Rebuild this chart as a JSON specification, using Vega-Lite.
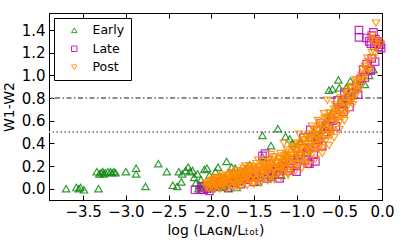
{
  "$schema": "https://vega.github.io/schema/vega-lite/v6.json",
  "autosize": {"type": "none"},
  "width": 333,
  "height": 187,
  "padding": {"left": 49, "top": 13, "right": 25, "bottom": 44},
  "background": "white",
  "config": {
    "view": {"stroke": "black", "strokeWidth": 1},
    "font": "DejaVu Sans",
    "axis": {"grid": false, "domainColor": "black", "tickColor": "black", "labelColor": "black", "titleColor": "black", "labelFont": "DejaVu Sans", "titleFont": "DejaVu Sans", "labelFontSize": 15, "titleFontSize": 14, "titleFontWeight": "normal", "tickSize": -5, "labelPadding": 9, "labelFlush": false, "labelOverlap": false}
  },
  "resolve": {"axis": {"x": "independent", "y": "independent"}},
  "layer": [
    {
      "data": {"values": [{"level": 0.8}]},
      "mark": {"type": "rule", "color": "#8c8c8c", "strokeWidth": 1.8, "strokeDash": [5, 2.5, 1.5, 2.5]},
      "encoding": {"y": {"field": "level", "type": "quantitative", "scale": {"domain": [-0.1, 1.55], "nice": false, "zero": false}, "axis": {"orient": "left", "values": [0, 0.2, 0.4, 0.6, 0.8, 1.0, 1.2, 1.4], "format": ".1f", "title": "W1-W2", "titlePadding": 5}}}
    },
    {
      "data": {"values": [{"level": 0.5}]},
      "mark": {"type": "rule", "color": "#8c8c8c", "strokeWidth": 1.8, "strokeDash": [1.5, 2.5]},
      "encoding": {"y": {"field": "level", "type": "quantitative", "axis": null}}
    },
    {
      "data": {"values": [{"x": -1, "y": 0.5}]},
      "mark": {"type": "point", "opacity": 0},
      "encoding": {
        "x": {"field": "x", "type": "quantitative", "axis": {"orient": "top", "values": [-3.5, -3, -2.5, -2, -1.5, -1, -0.5, 0], "labels": false, "title": null}},
        "y": {"field": "y", "type": "quantitative", "axis": {"orient": "right", "values": [0, 0.2, 0.4, 0.6, 0.8, 1.0, 1.2, 1.4], "labels": false, "title": null}}
      }
    },
    {
      "data": {"values": [
        {"series":"Early","x":-3.70,"y":0.00},{"series":"Early","x":-3.58,"y":0.01},{"series":"Early","x":-3.55,"y":0.00},{"series":"Early","x":-3.53,"y":0.01},{"series":"Early","x":-3.49,"y":-0.01},{"series":"Early","x":-3.32,"y":0.00},
        {"series":"Early","x":-3.34,"y":0.15},{"series":"Early","x":-3.31,"y":0.13},{"series":"Early","x":-3.29,"y":0.14},{"series":"Early","x":-3.27,"y":0.15},{"series":"Early","x":-3.26,"y":0.13},{"series":"Early","x":-3.24,"y":0.14},{"series":"Early","x":-3.21,"y":0.15},{"series":"Early","x":-3.18,"y":0.15},{"series":"Early","x":-3.16,"y":0.14},{"series":"Early","x":-3.14,"y":0.15},{"series":"Early","x":-3.12,"y":0.14},{"series":"Early","x":-3.00,"y":0.15},{"series":"Early","x":-2.88,"y":0.18},{"series":"Early","x":-2.88,"y":0.13},{"series":"Early","x":-2.77,"y":0.02},{"series":"Early","x":-2.62,"y":0.22},{"series":"Early","x":-2.52,"y":0.15},
        {"series":"Early","x":-2.45,"y":0.03},{"series":"Early","x":-2.40,"y":0.02},{"series":"Early","x":-2.38,"y":0.15},{"series":"Early","x":-2.35,"y":0.06},{"series":"Early","x":-2.34,"y":0.13},{"series":"Early","x":-2.30,"y":0.16},{"series":"Early","x":-2.27,"y":0.19},{"series":"Early","x":-2.25,"y":0.15},{"series":"Early","x":-2.22,"y":0.16},{"series":"Early","x":-2.20,"y":0.10},{"series":"Early","x":-2.18,"y":0.05},{"series":"Early","x":-2.16,"y":0.13},{"series":"Early","x":-2.14,"y":0.03},{"series":"Early","x":-2.12,"y":0.08},{"series":"Early","x":-2.10,"y":0.01},{"series":"Early","x":-2.08,"y":0.17},{"series":"Early","x":-2.05,"y":0.18},{"series":"Early","x":-2.02,"y":0.12},{"series":"Early","x":-2.00,"y":0.05},{"series":"Early","x":-1.95,"y":0.15},{"series":"Early","x":-1.92,"y":0.19},{"series":"Early","x":-1.88,"y":0.10},{"series":"Early","x":-1.85,"y":0.02},{"series":"Early","x":-1.82,"y":0.24},{"series":"Early","x":-1.80,"y":0.14},{"series":"Early","x":-1.76,"y":0.19},{"series":"Early","x":-1.72,"y":0.18},{"series":"Early","x":-1.68,"y":0.06},{"series":"Early","x":-1.65,"y":0.12},{"series":"Early","x":-1.60,"y":0.17},{"series":"Early","x":-1.55,"y":0.21},{"series":"Early","x":-1.50,"y":0.10},{"series":"Early","x":-1.45,"y":0.06},{"series":"Early","x":-1.40,"y":0.28},{"series":"Early","x":-1.40,"y":0.47},{"series":"Early","x":-1.30,"y":0.38},{"series":"Early","x":-1.28,"y":0.16},{"series":"Early","x":-1.22,"y":0.53},{"series":"Early","x":-1.20,"y":0.22},{"series":"Early","x":-1.13,"y":0.46},{"series":"Early","x":-1.12,"y":0.30},{"series":"Early","x":-1.08,"y":0.44},{"series":"Early","x":-1.05,"y":0.40},{"series":"Early","x":-1.00,"y":0.35},{"series":"Early","x":-0.95,"y":0.42},{"series":"Early","x":-0.90,"y":0.32},{"series":"Early","x":-0.85,"y":0.45},{"series":"Early","x":-0.80,"y":0.50},{"series":"Early","x":-0.74,"y":0.46},{"series":"Early","x":-0.70,"y":0.52},{"series":"Early","x":-0.65,"y":0.60},{"series":"Early","x":-0.62,"y":0.87},{"series":"Early","x":-0.58,"y":0.88},{"series":"Early","x":-0.55,"y":0.71},{"series":"Early","x":-0.51,"y":0.96},{"series":"Early","x":-0.50,"y":0.89},{"series":"Early","x":-0.48,"y":0.78},{"series":"Early","x":-0.42,"y":0.89},{"series":"Early","x":-0.40,"y":0.83},{"series":"Early","x":-0.37,"y":0.95},{"series":"Early","x":-0.30,"y":0.88},{"series":"Early","x":-0.25,"y":0.95},{"series":"Early","x":-0.20,"y":0.92},{"series":"Early","x":-0.15,"y":1.00},{"series":"Early","x":-0.10,"y":1.05},
        {"series":"Early","x":-1.95,"y":0.03},{"series":"Early","x":-1.85,"y":0.05},{"series":"Early","x":-1.75,"y":0.07},{"series":"Early","x":-1.62,"y":0.09},{"series":"Early","x":-1.52,"y":0.12},{"series":"Early","x":-1.35,"y":0.14},{"series":"Early","x":-1.25,"y":0.17},{"series":"Early","x":-1.15,"y":0.25},{"series":"Early","x":-1.00,"y":0.28},{"series":"Early","x":-0.88,"y":0.37},{"series":"Early","x":-0.78,"y":0.45},{"series":"Early","x":-0.68,"y":0.55},{"series":"Early","x":-0.60,"y":0.65},{"series":"Early","x":-0.45,"y":0.75},{"series":"Early","x":-0.35,"y":0.82},
        {"series":"Early","x":-2.15,"y":0.00},{"series":"Early","x":-2.10,"y":0.04},{"series":"Early","x":-2.05,"y":0.02},{"series":"Early","x":-2.00,"y":0.00},{"series":"Early","x":-1.98,"y":0.08},{"series":"Early","x":-1.90,"y":0.01},{"series":"Early","x":-1.80,"y":0.00},{"series":"Early","x":-1.70,"y":0.01},{"series":"Early","x":-1.30,"y":0.10},{"series":"Early","x":-1.18,"y":0.12},
        {"series":"Late","x":-2.19,"y":-0.01},{"series":"Late","x":-2.09,"y":-0.01},{"series":"Late","x":-2.10,"y":0.02},{"series":"Late","x":-2.05,"y":0.00},{"series":"Late","x":-2.00,"y":0.03},{"series":"Late","x":-1.95,"y":0.06},{"series":"Late","x":-1.90,"y":0.03},{"series":"Late","x":-1.85,"y":0.07},{"series":"Late","x":-1.80,"y":0.01},{"series":"Late","x":-1.75,"y":0.05},{"series":"Late","x":-1.70,"y":0.09},{"series":"Late","x":-1.65,"y":0.04},{"series":"Late","x":-1.60,"y":0.08},{"series":"Late","x":-1.55,"y":0.12},{"series":"Late","x":-1.50,"y":0.06},{"series":"Late","x":-1.45,"y":0.10},{"series":"Late","x":-1.40,"y":0.15},{"series":"Late","x":-1.35,"y":0.09},{"series":"Late","x":-1.32,"y":0.22},{"series":"Late","x":-1.30,"y":0.12},{"series":"Late","x":-1.25,"y":0.18},{"series":"Late","x":-1.20,"y":0.13},{"series":"Late","x":-1.15,"y":0.20},{"series":"Late","x":-1.10,"y":0.16},{"series":"Late","x":-1.05,"y":0.25},{"series":"Late","x":-1.00,"y":0.20},{"series":"Late","x":-0.95,"y":0.30},{"series":"Late","x":-0.92,"y":0.45},{"series":"Late","x":-0.90,"y":0.25},{"series":"Late","x":-0.85,"y":0.36},{"series":"Late","x":-0.80,"y":0.30},{"series":"Late","x":-0.75,"y":0.43},{"series":"Late","x":-0.72,"y":0.58},{"series":"Late","x":-0.70,"y":0.38},{"series":"Late","x":-0.65,"y":0.50},{"series":"Late","x":-0.62,"y":0.55},{"series":"Late","x":-0.60,"y":0.62},{"series":"Late","x":-0.54,"y":0.55},{"series":"Late","x":-0.50,"y":0.70},{"series":"Late","x":-0.47,"y":0.75},{"series":"Late","x":-0.45,"y":0.68},{"series":"Late","x":-0.40,"y":0.80},{"series":"Late","x":-0.38,"y":0.72},{"series":"Late","x":-0.35,"y":0.85},{"series":"Late","x":-0.30,"y":0.90},{"series":"Late","x":-0.28,"y":0.83},{"series":"Late","x":-0.25,"y":0.97},{"series":"Late","x":-0.22,"y":1.05},{"series":"Late","x":-0.20,"y":0.98},{"series":"Late","x":-0.18,"y":1.10},{"series":"Late","x":-0.15,"y":1.05},{"series":"Late","x":-0.13,"y":1.04},{"series":"Late","x":-0.12,"y":1.15},{"series":"Late","x":-0.08,"y":1.12},{"series":"Late","x":-0.27,"y":1.40},{"series":"Late","x":-0.27,"y":1.335},{"series":"Late","x":-0.18,"y":1.33},{"series":"Late","x":-0.15,"y":1.30},{"series":"Late","x":-0.12,"y":1.35},{"series":"Late","x":-0.10,"y":1.38},{"series":"Late","x":-0.08,"y":1.32},{"series":"Late","x":-0.06,"y":1.28},{"series":"Late","x":-0.04,"y":1.25},{"series":"Late","x":-0.02,"y":1.27},{"series":"Late","x":-0.01,"y":1.24},{"series":"Late","x":-0.09,"y":1.26},{"series":"Late","x":-0.13,"y":1.28},{"series":"Late","x":-0.05,"y":1.30},
        {"series":"Late","x":-1.97,"y":0.02},{"series":"Late","x":-1.88,"y":0.04},{"series":"Late","x":-1.78,"y":0.06},{"series":"Late","x":-1.68,"y":0.07},{"series":"Late","x":-1.58,"y":0.10},{"series":"Late","x":-1.48,"y":0.12},{"series":"Late","x":-1.38,"y":0.13},{"series":"Late","x":-1.28,"y":0.15},{"series":"Late","x":-1.18,"y":0.18},{"series":"Late","x":-1.08,"y":0.22},{"series":"Late","x":-0.98,"y":0.26},{"series":"Late","x":-0.88,"y":0.32},{"series":"Late","x":-0.78,"y":0.40},{"series":"Late","x":-0.68,"y":0.48},{"series":"Late","x":-0.58,"y":0.60},{"series":"Late","x":-0.52,"y":0.78},{"series":"Late","x":-0.66,"y":0.56},{"series":"Late","x":-0.84,"y":0.52},{"series":"Late","x":-0.44,"y":0.85},
        {"series":"Late","x":-2.12,"y":-0.01},{"series":"Late","x":-2.02,"y":-0.02},{"series":"Late","x":-1.20,"y":0.09},{"series":"Late","x":-1.00,"y":0.15},{"series":"Late","x":-0.85,"y":0.22},{"series":"Late","x":-0.78,"y":0.24},{"series":"Late","x":-1.40,"y":0.29},{"series":"Late","x":-1.37,"y":0.31},{"series":"Late","x":-1.34,"y":0.12},{"series":"Late","x":-1.07,"y":0.18},{"series":"Late","x":-0.87,"y":0.22},
        {"series":"Post","x":-2.05,"y":0.03},{"series":"Post","x":-2.02,"y":0.06},{"series":"Post","x":-2.00,"y":0.01},{"series":"Post","x":-1.98,"y":0.08},{"series":"Post","x":-1.96,"y":0.04},{"series":"Post","x":-1.94,"y":0.02},{"series":"Post","x":-1.92,"y":0.07},{"series":"Post","x":-1.90,"y":0.05},{"series":"Post","x":-1.88,"y":0.09},{"series":"Post","x":-1.86,"y":0.03},{"series":"Post","x":-1.84,"y":0.06},{"series":"Post","x":-1.82,"y":0.10},{"series":"Post","x":-1.80,"y":0.04},{"series":"Post","x":-1.78,"y":0.08},{"series":"Post","x":-1.76,"y":0.12},{"series":"Post","x":-1.74,"y":0.06},{"series":"Post","x":-1.72,"y":0.10},{"series":"Post","x":-1.70,"y":0.03},{"series":"Post","x":-1.68,"y":0.13},{"series":"Post","x":-1.66,"y":0.08},{"series":"Post","x":-1.64,"y":0.11},{"series":"Post","x":-1.62,"y":0.05},{"series":"Post","x":-1.60,"y":0.15},{"series":"Post","x":-1.58,"y":0.09},{"series":"Post","x":-1.56,"y":0.12},{"series":"Post","x":-1.54,"y":0.07},{"series":"Post","x":-1.52,"y":0.17},{"series":"Post","x":-1.50,"y":0.11},{"series":"Post","x":-1.48,"y":0.14},{"series":"Post","x":-1.46,"y":0.08},{"series":"Post","x":-1.44,"y":0.19},{"series":"Post","x":-1.42,"y":0.13},{"series":"Post","x":-1.40,"y":0.16},{"series":"Post","x":-1.38,"y":0.10},{"series":"Post","x":-1.36,"y":0.21},{"series":"Post","x":-1.34,"y":0.15},{"series":"Post","x":-1.32,"y":0.18},{"series":"Post","x":-1.30,"y":0.12},{"series":"Post","x":-1.28,"y":0.23},{"series":"Post","x":-1.26,"y":0.17},{"series":"Post","x":-1.24,"y":0.20},{"series":"Post","x":-1.22,"y":0.14},{"series":"Post","x":-1.20,"y":0.26},{"series":"Post","x":-1.18,"y":0.19},{"series":"Post","x":-1.16,"y":0.23},{"series":"Post","x":-1.14,"y":0.17},{"series":"Post","x":-1.12,"y":0.30},{"series":"Post","x":-1.10,"y":0.22},{"series":"Post","x":-1.08,"y":0.27},{"series":"Post","x":-1.06,"y":0.19},{"series":"Post","x":-1.04,"y":0.35},{"series":"Post","x":-1.02,"y":0.25},{"series":"Post","x":-1.00,"y":0.30},{"series":"Post","x":-0.98,"y":0.22},{"series":"Post","x":-0.96,"y":0.40},{"series":"Post","x":-0.94,"y":0.29},{"series":"Post","x":-0.92,"y":0.35},{"series":"Post","x":-0.90,"y":0.26},{"series":"Post","x":-0.88,"y":0.45},{"series":"Post","x":-0.86,"y":0.33},{"series":"Post","x":-0.84,"y":0.40},{"series":"Post","x":-0.82,"y":0.30},{"series":"Post","x":-0.80,"y":0.52},{"series":"Post","x":-0.78,"y":0.38},{"series":"Post","x":-0.76,"y":0.45},{"series":"Post","x":-0.74,"y":0.35},{"series":"Post","x":-0.72,"y":0.58},{"series":"Post","x":-0.70,"y":0.44},{"series":"Post","x":-0.68,"y":0.52},{"series":"Post","x":-0.66,"y":0.42},{"series":"Post","x":-0.64,"y":0.63},{"series":"Post","x":-0.62,"y":0.50},{"series":"Post","x":-0.60,"y":0.58},{"series":"Post","x":-0.58,"y":0.52},{"series":"Post","x":-0.56,"y":0.70},{"series":"Post","x":-0.54,"y":0.60},{"series":"Post","x":-0.52,"y":0.65},{"series":"Post","x":-0.50,"y":0.58},{"series":"Post","x":-0.48,"y":0.78},{"series":"Post","x":-0.46,"y":0.66},{"series":"Post","x":-0.44,"y":0.72},{"series":"Post","x":-0.42,"y":0.66},{"series":"Post","x":-0.40,"y":0.85},{"series":"Post","x":-0.38,"y":0.76},{"series":"Post","x":-0.36,"y":0.80},{"series":"Post","x":-0.34,"y":0.74},{"series":"Post","x":-0.32,"y":0.90},{"series":"Post","x":-0.30,"y":0.83},{"series":"Post","x":-0.28,"y":0.95},{"series":"Post","x":-0.26,"y":0.88},{"series":"Post","x":-0.24,"y":1.00},{"series":"Post","x":-0.22,"y":0.95},{"series":"Post","x":-0.20,"y":1.08},{"series":"Post","x":-0.18,"y":1.02},{"series":"Post","x":-0.16,"y":1.12},{"series":"Post","x":-0.14,"y":1.05},{"series":"Post","x":-0.12,"y":1.20},{"series":"Post","x":-0.10,"y":1.15},{"series":"Post","x":-0.08,"y":1.28},{"series":"Post","x":-0.06,"y":1.25},{"series":"Post","x":-0.04,"y":1.30},{"series":"Post","x":-0.07,"y":1.46},{"series":"Post","x":-0.13,"y":1.32},{"series":"Post","x":-0.11,"y":1.35},{"series":"Post","x":-0.02,"y":1.27},
        {"series":"Post","x":-0.64,"y":0.78},{"series":"Post","x":-0.97,"y":0.48},{"series":"Post","x":-0.82,"y":0.55},{"series":"Post","x":-0.75,"y":0.60},{"series":"Post","x":-0.68,"y":0.66},{"series":"Post","x":-1.15,"y":0.40},{"series":"Post","x":-1.30,"y":0.30},{"series":"Post","x":-1.45,"y":0.25},{"series":"Post","x":-1.60,"y":0.20},{"series":"Post","x":-1.90,"y":0.00},{"series":"Post","x":-1.70,"y":0.02},{"series":"Post","x":-1.50,"y":0.05},{"series":"Post","x":-1.30,"y":0.08},{"series":"Post","x":-1.10,"y":0.14},{"series":"Post","x":-0.90,"y":0.22},{"series":"Post","x":-0.70,"y":0.36},{"series":"Post","x":-0.60,"y":0.47},
        {"series":"Post","x":-2.06,"y":0.01},{"series":"Post","x":-2.06,"y":0.05},{"series":"Post","x":-2.03,"y":0.04},{"series":"Post","x":-2.03,"y":0.00},{"series":"Post","x":-1.99,"y":0.03},{"series":"Post","x":-1.99,"y":0.07},{"series":"Post","x":-1.97,"y":0.06},{"series":"Post","x":-1.97,"y":0.01},{"series":"Post","x":-1.93,"y":0.04},{"series":"Post","x":-1.93,"y":0.09},{"series":"Post","x":-1.91,"y":0.02},{"series":"Post","x":-1.91,"y":0.07},{"series":"Post","x":-1.87,"y":0.05},{"series":"Post","x":-1.87,"y":0.10},{"series":"Post","x":-1.85,"y":0.08},{"series":"Post","x":-1.85,"y":0.02},{"series":"Post","x":-1.81,"y":0.06},{"series":"Post","x":-1.81,"y":0.11},{"series":"Post","x":-1.79,"y":0.03},{"series":"Post","x":-1.79,"y":0.09},{"series":"Post","x":-1.75,"y":0.07},{"series":"Post","x":-1.75,"y":0.13},{"series":"Post","x":-1.73,"y":0.04},{"series":"Post","x":-1.73,"y":0.11},{"series":"Post","x":-1.69,"y":0.08},{"series":"Post","x":-1.69,"y":0.14},{"series":"Post","x":-1.67,"y":0.05},{"series":"Post","x":-1.67,"y":0.12},{"series":"Post","x":-1.63,"y":0.09},{"series":"Post","x":-1.63,"y":0.15},{"series":"Post","x":-1.61,"y":0.06},{"series":"Post","x":-1.61,"y":0.13},{"series":"Post","x":-1.57,"y":0.10},{"series":"Post","x":-1.57,"y":0.17},{"series":"Post","x":-1.55,"y":0.07},{"series":"Post","x":-1.55,"y":0.14},{"series":"Post","x":-1.51,"y":0.12},{"series":"Post","x":-1.51,"y":0.18},{"series":"Post","x":-1.49,"y":0.08},{"series":"Post","x":-1.49,"y":0.15},{"series":"Post","x":-1.45,"y":0.13},{"series":"Post","x":-1.45,"y":0.19},{"series":"Post","x":-1.43,"y":0.09},{"series":"Post","x":-1.43,"y":0.17},{"series":"Post","x":-1.39,"y":0.14},{"series":"Post","x":-1.39,"y":0.21},{"series":"Post","x":-1.37,"y":0.11},{"series":"Post","x":-1.37,"y":0.18},{"series":"Post","x":-1.33,"y":0.16},{"series":"Post","x":-1.33,"y":0.23},{"series":"Post","x":-1.31,"y":0.12},{"series":"Post","x":-1.31,"y":0.20},{"series":"Post","x":-1.27,"y":0.18},{"series":"Post","x":-1.27,"y":0.25},{"series":"Post","x":-1.25,"y":0.14},{"series":"Post","x":-1.25,"y":0.22},{"series":"Post","x":-1.21,"y":0.19},{"series":"Post","x":-1.21,"y":0.27},{"series":"Post","x":-1.19,"y":0.15},{"series":"Post","x":-1.19,"y":0.24},{"series":"Post","x":-1.15,"y":0.21},{"series":"Post","x":-1.15,"y":0.29},{"series":"Post","x":-1.13,"y":0.17},{"series":"Post","x":-1.13,"y":0.26},{"series":"Post","x":-1.09,"y":0.24},{"series":"Post","x":-1.09,"y":0.32},{"series":"Post","x":-1.07,"y":0.20},{"series":"Post","x":-1.07,"y":0.29},{"series":"Post","x":-1.03,"y":0.27},{"series":"Post","x":-1.03,"y":0.36},{"series":"Post","x":-1.01,"y":0.22},{"series":"Post","x":-1.01,"y":0.33},{"series":"Post","x":-0.97,"y":0.30},{"series":"Post","x":-0.97,"y":0.38},{"series":"Post","x":-0.95,"y":0.25},{"series":"Post","x":-0.95,"y":0.35},{"series":"Post","x":-0.91,"y":0.33},{"series":"Post","x":-0.91,"y":0.43},{"series":"Post","x":-0.89,"y":0.28},{"series":"Post","x":-0.89,"y":0.39},{"series":"Post","x":-0.85,"y":0.37},{"series":"Post","x":-0.85,"y":0.48},{"series":"Post","x":-0.83,"y":0.33},{"series":"Post","x":-0.83,"y":0.44},{"series":"Post","x":-0.79,"y":0.42},{"series":"Post","x":-0.79,"y":0.52},{"series":"Post","x":-0.77,"y":0.36},{"series":"Post","x":-0.77,"y":0.48},{"series":"Post","x":-0.73,"y":0.47},{"series":"Post","x":-0.73,"y":0.56},{"series":"Post","x":-0.71,"y":0.41},{"series":"Post","x":-0.71,"y":0.53},{"series":"Post","x":-0.67,"y":0.52},{"series":"Post","x":-0.67,"y":0.62},{"series":"Post","x":-0.65,"y":0.47},{"series":"Post","x":-0.65,"y":0.58},{"series":"Post","x":-0.61,"y":0.57},{"series":"Post","x":-0.61,"y":0.67},{"series":"Post","x":-0.59,"y":0.52},{"series":"Post","x":-0.59,"y":0.64},{"series":"Post","x":-0.55,"y":0.63},{"series":"Post","x":-0.55,"y":0.74},{"series":"Post","x":-0.53,"y":0.60},{"series":"Post","x":-0.53,"y":0.70},{"series":"Post","x":-0.49,"y":0.68},{"series":"Post","x":-0.49,"y":0.80},{"series":"Post","x":-0.47,"y":0.64},{"series":"Post","x":-0.47,"y":0.76},{"series":"Post","x":-0.43,"y":0.75},{"series":"Post","x":-0.43,"y":0.86},{"series":"Post","x":-0.41,"y":0.72},{"series":"Post","x":-0.41,"y":0.82},{"series":"Post","x":-0.37,"y":0.82},{"series":"Post","x":-0.37,"y":0.90},{"series":"Post","x":-0.35,"y":0.78},{"series":"Post","x":-0.35,"y":0.88},{"series":"Post","x":-0.31,"y":0.88},{"series":"Post","x":-0.31,"y":0.96},{"series":"Post","x":-0.29,"y":0.86},{"series":"Post","x":-0.29,"y":0.93},{"series":"Post","x":-0.23,"y":0.98},{"series":"Post","x":-0.23,"y":1.05},{"series":"Post","x":-0.17,"y":1.06},{"series":"Post","x":-0.17,"y":1.15},{"series":"Post","x":-0.09,"y":1.20},{"series":"Post","x":-0.09,"y":1.30},
        {"series":"Post","x":-1.98,"y":-0.01},{"series":"Post","x":-1.90,"y":0.00},{"series":"Post","x":-1.82,"y":0.00},{"series":"Post","x":-1.74,"y":0.01},{"series":"Post","x":-1.66,"y":0.02},{"series":"Post","x":-1.58,"y":0.03},{"series":"Post","x":-1.50,"y":0.04},{"series":"Post","x":-1.42,"y":0.05},{"series":"Post","x":-1.34,"y":0.07},{"series":"Post","x":-1.26,"y":0.08},{"series":"Post","x":-1.18,"y":0.10},{"series":"Post","x":-1.10,"y":0.12},{"series":"Post","x":-1.02,"y":0.15},{"series":"Post","x":-0.94,"y":0.18},{"series":"Post","x":-0.86,"y":0.21},{"series":"Post","x":-0.78,"y":0.26},{"series":"Post","x":-0.70,"y":0.31},{"series":"Post","x":-0.62,"y":0.38},{"series":"Post","x":-0.56,"y":0.45},{"series":"Post","x":-0.50,"y":0.52},{"series":"Post","x":-0.44,"y":0.60},
        {"series":"Post","x":-1.95,"y":0.10},{"series":"Post","x":-1.86,"y":0.12},{"series":"Post","x":-1.77,"y":0.14},{"series":"Post","x":-1.70,"y":0.16},{"series":"Post","x":-1.62,"y":0.18},{"series":"Post","x":-1.55,"y":0.20},{"series":"Post","x":-1.47,"y":0.22},{"series":"Post","x":-1.40,"y":0.24},{"series":"Post","x":-1.33,"y":0.26},{"series":"Post","x":-1.26,"y":0.28},{"series":"Post","x":-1.19,"y":0.31},{"series":"Post","x":-1.11,"y":0.34},{"series":"Post","x":-1.05,"y":0.37},{"series":"Post","x":-0.99,"y":0.40},{"series":"Post","x":-0.93,"y":0.42},{"series":"Post","x":-0.87,"y":0.45},{"series":"Post","x":-0.81,"y":0.48},{"series":"Post","x":-0.76,"y":0.51},{"series":"Post","x":-0.70,"y":0.55},{"series":"Post","x":-0.63,"y":0.60},{"series":"Post","x":-0.57,"y":0.66},{"series":"Post","x":-0.52,"y":0.72},
        {"series":"Post","x":-1.95,"y":0.05},{"series":"Post","x":-1.83,"y":0.07},{"series":"Post","x":-1.71,"y":0.09},{"series":"Post","x":-1.59,"y":0.12},{"series":"Post","x":-1.47,"y":0.16},{"series":"Post","x":-1.35,"y":0.19},{"series":"Post","x":-1.23,"y":0.23},{"series":"Post","x":-1.11,"y":0.27},{"series":"Post","x":-0.99,"y":0.31},{"series":"Post","x":-0.87,"y":0.37},{"series":"Post","x":-0.75,"y":0.43},{"series":"Post","x":-0.63,"y":0.52}
      ]},
      "mark": {"type": "point", "filled": false, "strokeWidth": 1.2, "opacity": 0.85, "size": 55},
      "encoding": {
        "x": {"field": "x", "type": "quantitative", "scale": {"domain": [-3.9, 0], "nice": false, "zero": false}, "axis": {"orient": "bottom", "values": [-3.5, -3, -2.5, -2, -1.5, -1, -0.5, 0], "format": ".1f", "title": "log (Lᴀɢɴ/Lₜₒₜ)", "titlePadding": 4}},
        "y": {"field": "y", "type": "quantitative", "axis": null},
        "color": {"field": "series", "type": "nominal", "scale": {"domain": ["Early", "Late", "Post"], "range": ["#108a10", "#bf00bf", "#ff8c00"]}, "legend": {"title": null, "orient": "top-left", "offset": 5, "strokeColor": "black", "fillColor": "white", "padding": 6, "cornerRadius": 0, "symbolOffset": 8, "labelOffset": 12, "labelFontSize": 12.5, "labelFont": "DejaVu Sans", "labelColor": "black", "rowPadding": 5.5, "symbolSize": 30, "symbolStrokeWidth": 1}},
        "shape": {"field": "series", "type": "nominal", "scale": {"domain": ["Early", "Late", "Post"], "range": ["triangle-up", "square", "triangle-down"]}},
        "order": {"field": "series"}
      }
    }
  ]
}
